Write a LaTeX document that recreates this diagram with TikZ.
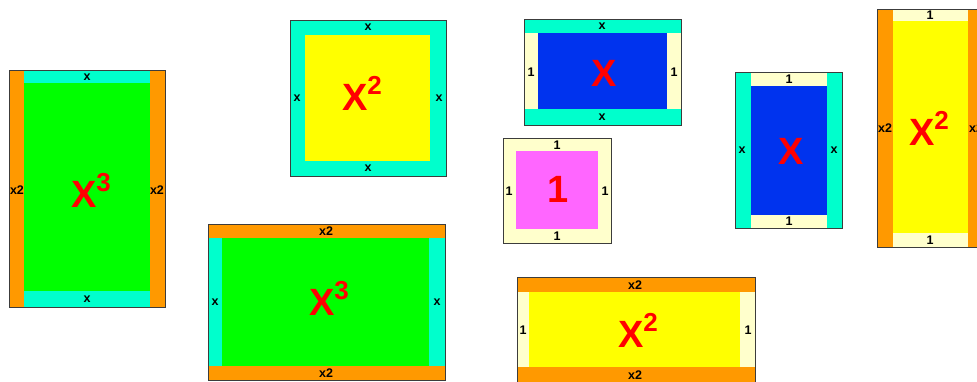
\documentclass[tikz,border=0pt]{standalone}
\usepackage{fontspec}
\setmainfont{Liberation Sans}
\usepackage{xcolor}
\definecolor{tlGreen} {RGB}{0,   255, 0}
\definecolor{tlCyan}  {RGB}{0,   255, 204}
\definecolor{tlOrange}{RGB}{255, 153, 0}
\definecolor{tlYellow}{RGB}{255, 255, 0}
\definecolor{tlBlue}  {RGB}{0,   51,  238}
\definecolor{tlPink}  {RGB}{255, 102, 255}
\definecolor{tlCream} {RGB}{255, 255, 204}
\definecolor{tlRed}   {RGB}{255, 0,   0}
\definecolor{tlEdge}  {RGB}{60,  60,  60}
\newcommand{\pw}[1]{\raisebox{0.42em}{\fontsize{26}{26}\selectfont#1}}

\begin{document}
\begin{tikzpicture}[
  x=1pt, y=-1pt,
  edge/.style = {draw=tlEdge, line width=0.9pt},
  lab/.style  = {font=\fontsize{12.5}{12.5}\selectfont\bfseries, inner sep=0pt},
  big/.style  = {font=\fontsize{38}{38}\selectfont\bfseries, text=tlRed, inner sep=0pt}
]
  \useasboundingbox (0,0) rectangle (977,381);

  % x^3 standing
  \fill[tlCyan]   (9,70) rectangle (165,307);
  \fill[tlOrange] (9,70) rectangle (24,307);
  \fill[tlOrange] (150,70) rectangle (165,307);
  \fill[tlGreen]  (24,83) rectangle (150,291);
  \draw[edge]     (9,70) rectangle (165,307);
  \node[lab] (aT) at (87,77)  {x};
  \node[lab] (aB) at (87,299) {x};
  \node[lab] (aL) at (17,190) {x2};
  \node[lab] (aR) at (157,190) {x2};
  \node[big] (aX) at (91,190) {X\pw{3}};

  % x^2 square
  \fill[tlCyan]   (290,20) rectangle (446,176);
  \fill[tlYellow] (305,35) rectangle (430,161);
  \draw[edge]     (290,20) rectangle (446,176);
  \node[lab] (bT) at (368,27)  {x};
  \node[lab] (bB) at (368,168) {x};
  \node[lab] (bL) at (297,98)  {x};
  \node[lab] (bR) at (439,98)  {x};
  \node[big] (bX) at (362,93)  {X\pw{2}};

  % x^3 lying
  \fill[tlCyan]   (208,224) rectangle (445,380);
  \fill[tlOrange] (208,224) rectangle (445,238);
  \fill[tlOrange] (208,366) rectangle (445,380);
  \fill[tlGreen]  (222,238) rectangle (429,366);
  \draw[edge]     (208,224) rectangle (445,380);
  \node[lab] (cT) at (326,231) {x2};
  \node[lab] (cB) at (326,373) {x2};
  \node[lab] (cL) at (215,302) {x};
  \node[lab] (cR) at (437,302) {x};
  \node[big] (cX) at (329,298) {X\pw{3}};

  % x lying
  \fill[tlCyan]   (524,19) rectangle (681,125);
  \fill[tlCream]  (524,33) rectangle (538,109);
  \fill[tlCream]  (667,33) rectangle (681,109);
  \fill[tlBlue]   (538,33) rectangle (667,109);
  \draw[edge]     (524,19) rectangle (681,125);
  \node[lab] (dT) at (602,26)  {x};
  \node[lab] (dB) at (602,117) {x};
  \node[lab] (dL) at (531,72)  {1};
  \node[lab] (dR) at (674,72)  {1};
  \node[big] (dX) at (604,73)  {X};

  % unit
  \fill[tlCream]  (503,138) rectangle (611,243);
  \fill[tlPink]   (516,151) rectangle (598,229);
  \draw[edge]     (503,138) rectangle (611,243);
  \node[lab] (eT) at (557,145) {1};
  \node[lab] (eB) at (557,236) {1};
  \node[lab] (eL) at (509,191) {1};
  \node[lab] (eR) at (605,191) {1};
  \node[big] (eX) at (558,189) {1};

  % x standing
  \fill[tlCream]  (735,72) rectangle (842,228);
  \fill[tlCyan]   (735,72) rectangle (751,228);
  \fill[tlCyan]   (827,72) rectangle (842,228);
  \fill[tlBlue]   (751,86) rectangle (827,215);
  \draw[edge]     (735,72) rectangle (842,228);
  \node[lab] (fT) at (789,79)  {1};
  \node[lab] (fB) at (789,221) {1};
  \node[lab] (fL) at (742,150) {x};
  \node[lab] (fR) at (834,150) {x};
  \node[big] (fX) at (791,151) {X};

  % x^2 standing
  \fill[tlCream]  (877,9) rectangle (984,247);
  \fill[tlOrange] (877,9) rectangle (893,247);
  \fill[tlOrange] (968,9) rectangle (984,247);
  \fill[tlYellow] (893,21) rectangle (968,233);
  \draw[edge]     (877,9) rectangle (984,247);
  \node[lab] (gT) at (930,15)  {1};
  \node[lab] (gB) at (930,240) {1};
  \node[lab] (gL) at (885,128) {x2};
  \node[lab] (gR) at (976,128) {x2};
  \node[big] (gX) at (929,128) {X\pw{2}};

  % x^2 lying
  \fill[tlCream]  (517,277) rectangle (755,382);
  \fill[tlOrange] (517,277) rectangle (755,292);
  \fill[tlOrange] (517,367) rectangle (755,382);
  \fill[tlYellow] (529,292) rectangle (740,367);
  \draw[edge]     (517,277) rectangle (755,382);
  \node[lab] (hT) at (635,285) {x2};
  \node[lab] (hB) at (635,375) {x2};
  \node[lab] (hL) at (523,330) {1};
  \node[lab] (hR) at (748,330) {1};
  \node[big] (hX) at (638,330) {X\pw{2}};
\end{tikzpicture}
\end{document}
